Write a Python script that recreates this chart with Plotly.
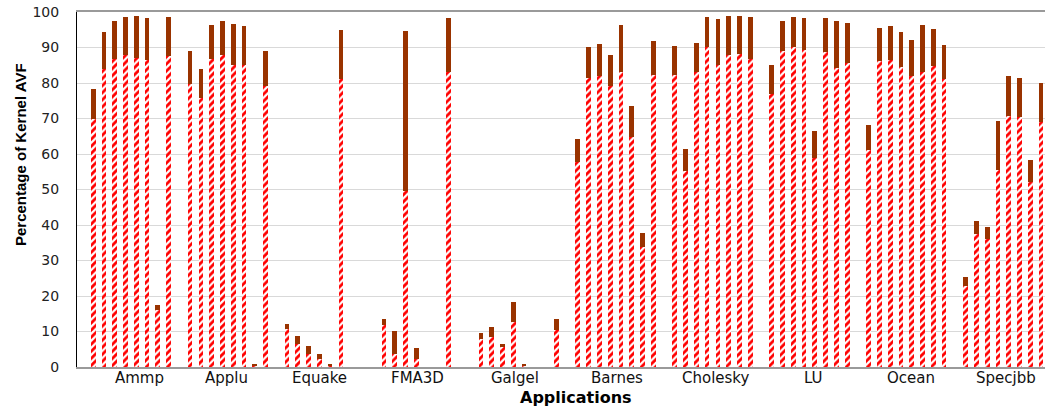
import plotly.graph_objects as go

# ---------------- data ----------------
apps = ["Ammp", "Applu", "Equake", "FMA3D", "Galgel",
        "Barnes", "Cholesky", "LU", "Ocean", "Specjbb"]

# hatched (lower) part of each bar, % of kernel AVF
lower = {
    "Ammp":     [69.9, 83.9, 86.7, 87.9, 87.0, 86.5, 16.1, 87.6],
    "Applu":    [79.7, 75.8, 86.8, 87.9, 85.1, 85.1, 0.3, 79.2],
    "Equake":   [10.6, 6.5, 3.7, 2.3, 0.2, 81.1, 0, 0],
    "FMA3D":    [11.8, 3.6, 49.6, 2.2, 0, 0, 83.1, 0],
    "Galgel":   [7.9, 8.5, 5.5, 12.7, 0.3, 0, 0, 10.4],
    "Barnes":   [57.7, 81.4, 82.0, 79.2, 83.1, 64.8, 33.8, 82.3],
    "Cholesky": [82.3, 55.2, 83.1, 90.1, 85.1, 87.9, 88.2, 86.8],
    "LU":       [76.9, 89.0, 90.1, 89.3, 58.9, 88.7, 84.2, 85.6],
    "Ocean":    [61.1, 86.2, 86.5, 84.5, 82.0, 83.1, 84.8, 81.1],
    "Specjbb":  [22.8, 37.5, 36.1, 55.5, 70.7, 70.4, 52.1, 69.0],
}
# total height of each bar
total = {
    "Ammp":     [78.3, 94.4, 97.5, 98.6, 98.9, 98.3, 17.5, 98.6],
    "Applu":    [89.0, 83.9, 96.3, 97.5, 96.6, 96.1, 0.9, 89.0],
    "Equake":   [12.1, 8.7, 5.9, 3.7, 0.8, 94.9, 0, 0],
    "FMA3D":    [13.5, 10.2, 94.6, 5.4, 0, 0, 98.3, 0],
    "Galgel":   [9.6, 11.3, 6.5, 18.3, 0.8, 0, 0, 13.5],
    "Barnes":   [64.2, 90.1, 91.1, 87.9, 96.3, 73.5, 37.7, 91.8],
    "Cholesky": [90.4, 61.4, 91.3, 98.6, 98.0, 98.9, 98.9, 98.6],
    "LU":       [85.1, 97.5, 98.6, 98.3, 66.5, 98.3, 97.5, 96.9],
    "Ocean":    [68.2, 95.5, 96.1, 94.4, 92.1, 96.3, 95.2, 90.7],
    "Specjbb":  [25.4, 41.1, 39.4, 69.3, 82.0, 81.4, 58.3, 80.0],
}
y_ticks = [0, 10, 20, 30, 40, 50, 60, 70, 80, 90, 100]

# ---------------- layout helpers ----------------
SLOTS_PER_GROUP = 9          # 8 bars + 1 empty slot
label_x = [5.30, 13.40, 21.97, 31.14, 40.15, 49.64, 58.79, 67.91, 76.94, 85.74]

xs, lo, hi = [], [], []
for g, app in enumerate(apps):
    for i, (l, t) in enumerate(zip(lower[app], total[app])):
        xs.append(g * SLOTS_PER_GROUP + 1 + i)
        lo.append(l)
        hi.append(max(t - l, 0))

fig = go.Figure()
fig.add_trace(go.Bar(
    x=xs, y=lo, width=0.44,
    marker=dict(color="white", line=dict(width=0),
                pattern=dict(shape="/", fgcolor="#FF0000", bgcolor="white",
                             size=5, solidity=0.55, fillmode="replace")),
    showlegend=False, hoverinfo="skip"))
fig.add_trace(go.Bar(
    x=xs, y=hi, width=0.44,
    marker=dict(color="#993300", line=dict(width=0)),
    showlegend=False, hoverinfo="skip"))

annotations = []
for app, lx in zip(apps, label_x):
    annotations.append(dict(x=lx, y=0, xref="x", yref="paper", text=app,
                            showarrow=False, yanchor="top", yshift=0,
                            font=dict(family="DejaVu Sans", size=15, color="#111")))
annotations.append(dict(x=(576 - 77) / 10.771 - 0.5, y=0, xref="x", yref="paper",
                        text="<b>Applications</b>", showarrow=False,
                        xanchor="center", yanchor="top", yshift=-19,
                        font=dict(family="DejaVu Sans", size=16, color="#000")))
annotations.append(dict(x=(20 - 77) / 968, y=(367 - 155) / 355, xref="paper", yref="paper",
                        text="<b>Percentage of Kernel AVF</b>", textangle=-90,
                        showarrow=False, xanchor="center", yanchor="middle",
                        font=dict(family="Liberation Sans Narrow, Arial Narrow, Liberation Sans",
                                  size=15, color="#000")))

fig.update_layout(
    width=1045, height=407,
    margin=dict(l=77, r=0, t=12, b=40, pad=0),
    paper_bgcolor="white", plot_bgcolor="white",
    barmode="stack",
    annotations=annotations,
    xaxis=dict(range=[-0.5, 89.37], showticklabels=False, ticks="",
               showgrid=False, zeroline=False,
               showline=True, linecolor="#9A9A9A", linewidth=1.5, mirror=True),
    yaxis=dict(range=[0, 100], tickvals=y_ticks, ticks="", ticklabelstandoff=14,
               tickfont=dict(family="DejaVu Sans", size=14, color="#222"),
               showgrid=True, gridcolor="#D9D9D9", gridwidth=1, zeroline=False,
               showline=True, linecolor="#000", linewidth=1),
)

fig.write_html("out.html")
